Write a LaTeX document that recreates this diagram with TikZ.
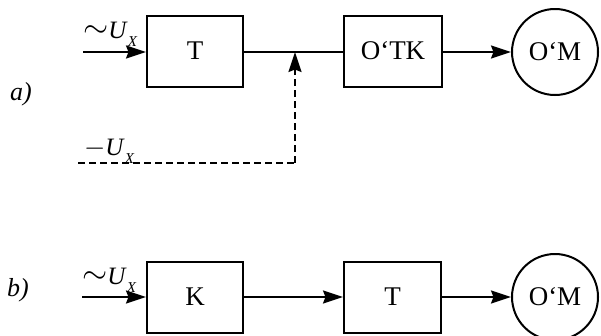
\documentclass[tikz,border=0pt]{standalone}
\usepackage{fontspec}
\setmainfont{Liberation Serif}
\usetikzlibrary{arrows.meta}
\newcommand{\myUx}{\textit{U}\raisebox{-8pt}{\fontsize{15}{15}\selectfont\itshape X}}
\newcommand{\mysim}{\raisebox{1pt}{\scalebox{1.3}{$\sim$}}}
\newcommand{\myminus}{\raisebox{0pt}{\scalebox{1.1}{$-$}}}
\tikzset{
  tip/.tip={Stealth[length=20pt, width=13pt, inset=2.5pt]},
  blk/.style={draw, line width=2pt, minimum width=96pt, minimum height=71pt, inner sep=0pt, font=\fontsize{27}{30}\selectfont},
  ring/.style={draw, line width=2pt, circle, minimum size=86pt, inner sep=0pt, font=\fontsize{27}{30}\selectfont},
  conn/.style={line width=2pt},
  arr/.style={conn, -tip},
  dashline/.style={conn, dash pattern=on 7pt off 4pt},
  lbl/.style={inner sep=0pt, anchor=base west, font=\fontsize{25}{28}\selectfont},
  part/.style={inner sep=0pt, font=\fontsize{26}{28}\selectfont\itshape}
}
\begin{document}
\begin{tikzpicture}[x=1pt, y=-1pt]
\useasboundingbox (0,0) rectangle (601,335);
% row a
\coordinate (inA) at (83,52);
\node[blk] (T1) at (195,51) {T};
\node[blk, minimum width=98pt] (OTK) at (393,51) {O‘TK};
\node[ring] (OM1) at (555,52) {O‘M};
\coordinate (J) at (295,52);
\coordinate (D0) at (78,163);
\coordinate (D1) at (295,163);
\draw[arr] (inA) -- (inA -| T1.west);
\draw[conn] (T1.east |- J) -- (J) -- (J -| OTK.west);
\draw[arr] (OTK.east |- J) -- (OM1.west);
\draw[dashline] (D0) -- (D1);
\draw[dashline, -tip] (D1) -- (J);
\node[lbl] (LA1) at (83,38) {\mysim\myUx};
\node[lbl] (LA2) at (84,155) {\myminus\myUx};
\node[part] (PA) at (21,94) {a)};
% row b
\coordinate (inB) at (82,297);
\node[blk] (K) at (195,297) {K};
\node[blk, minimum width=97pt] (T2) at (392.5,297) {T};
\node[ring] (OM2) at (555,297) {O‘M};
\draw[arr] (inB) -- (K.west);
\draw[arr] (K.east) -- (T2.west);
\draw[arr] (T2.east) -- (OM2.west);
\node[lbl] (LB1) at (82,284) {\mysim\myUx};
\node[part] (PB) at (18,290) {b)};
\end{tikzpicture}
\end{document}
